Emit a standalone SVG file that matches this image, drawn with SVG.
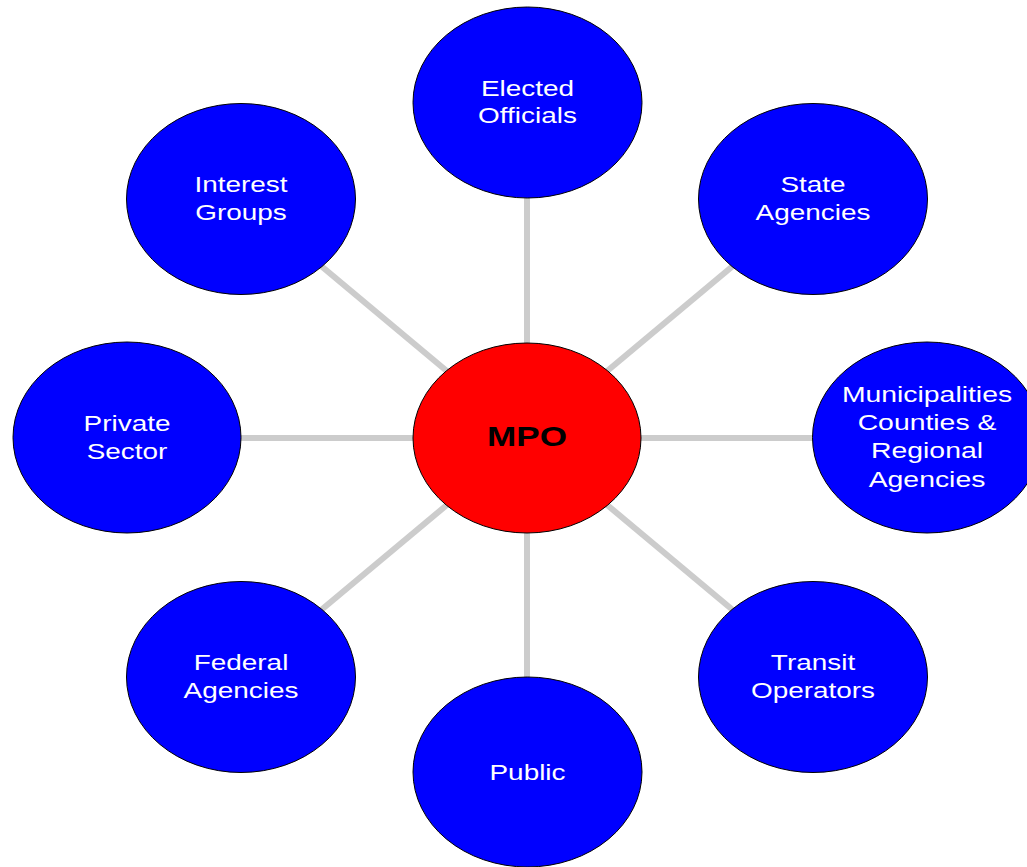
<svg xmlns="http://www.w3.org/2000/svg" width="1027" height="867" viewBox="0 0 1027 867">
<style>
.con line{stroke:#cccccc;stroke-width:6}
.sat{fill:#0000ff;stroke:#000;stroke-width:1}
.hub{fill:#ff0000;stroke:#000;stroke-width:1}
.t{font-family:"Liberation Sans",Arial,sans-serif;font-size:22px;fill:#fff;text-anchor:middle}
.h{font-family:"Liberation Sans",Arial,sans-serif;font-size:27px;font-weight:bold;fill:#000;text-anchor:middle}
</style>
<rect width="1027" height="867" fill="#fff"/>
<g id="connectors" class="con">
<line x1="527" y1="438" x2="527" y2="102"/>
<line x1="527" y1="438" x2="813" y2="199"/>
<line x1="527" y1="438" x2="927" y2="438"/>
<line x1="527" y1="438" x2="813" y2="677"/>
<line x1="527" y1="438" x2="527" y2="772"/>
<line x1="527" y1="438" x2="241" y2="677"/>
<line x1="527" y1="438" x2="127" y2="438"/>
<line x1="527" y1="438" x2="241" y2="199"/>
</g>
<g id="elected">
<ellipse class="sat" cx="527.5" cy="102.5" rx="114.5" ry="95.5"/>
<g transform="translate(527.5 0) scale(1.27 1)">
<text class="t" x="0" y="96">Elected</text>
<text class="t" x="0" y="123">Officials</text>
</g>
</g>
<g id="state">
<ellipse class="sat" cx="813" cy="199" rx="114.5" ry="95.5"/>
<g transform="translate(813 0) scale(1.27 1)">
<text class="t" x="0" y="192">State</text>
<text class="t" x="0" y="220">Agencies</text>
</g>
</g>
<g id="municipalities">
<ellipse class="sat" cx="927" cy="437.5" rx="114.5" ry="95.5"/>
<g transform="translate(927 0) scale(1.29 1)">
<text class="t" x="0" y="402">Municipalities</text>
<text class="t" x="0" y="430">Counties &amp;</text>
<text class="t" x="0" y="458">Regional</text>
<text class="t" x="0" y="487">Agencies</text>
</g>
</g>
<g id="transit">
<ellipse class="sat" cx="813" cy="677" rx="114.5" ry="95.5"/>
<g transform="translate(813 0) scale(1.27 1)">
<text class="t" x="0" y="670">Transit</text>
<text class="t" x="0" y="698">Operators</text>
</g>
</g>
<g id="public">
<ellipse class="sat" cx="527.5" cy="772" rx="114.5" ry="95"/>
<g transform="translate(527.5 0) scale(1.27 1)">
<text class="t" x="0" y="780">Public</text>
</g>
</g>
<g id="federal">
<ellipse class="sat" cx="241" cy="677" rx="114.5" ry="95.5"/>
<g transform="translate(241 0) scale(1.27 1)">
<text class="t" x="0" y="670">Federal</text>
<text class="t" x="0" y="698">Agencies</text>
</g>
</g>
<g id="private">
<ellipse class="sat" cx="127" cy="437.5" rx="114" ry="95.5"/>
<g transform="translate(127 0) scale(1.27 1)">
<text class="t" x="0" y="431">Private</text>
<text class="t" x="0" y="459">Sector</text>
</g>
</g>
<g id="interest">
<ellipse class="sat" cx="241" cy="199" rx="114.5" ry="95.5"/>
<g transform="translate(241 0) scale(1.27 1)">
<text class="t" x="0" y="192">Interest</text>
<text class="t" x="0" y="220">Groups</text>
</g>
</g>
<g id="mpo">
<ellipse class="hub" cx="527" cy="438" rx="114" ry="95"/>
<g transform="translate(527 0) scale(1.3 1)">
<text class="h" x="0" y="446">MPO</text>
</g>
</g>
</svg>
